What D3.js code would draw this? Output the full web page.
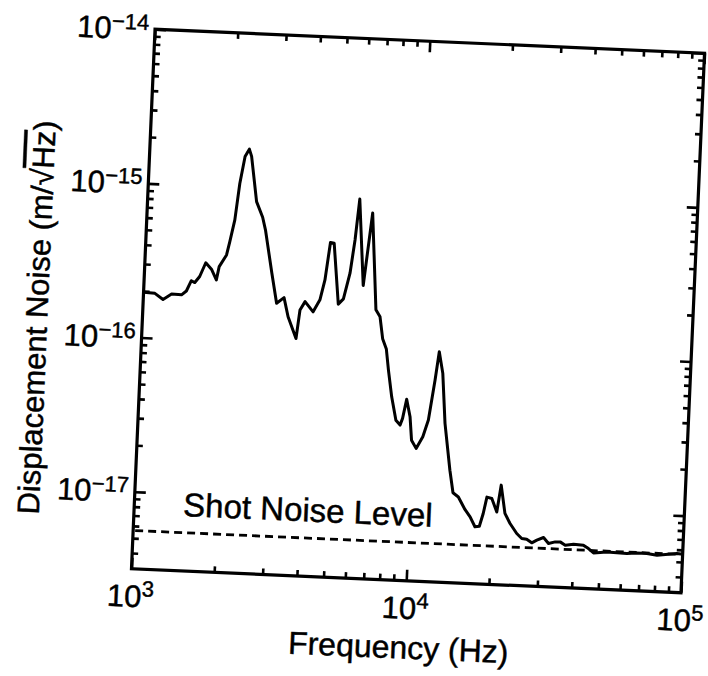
<!DOCTYPE html>
<html>
<head>
<meta charset="utf-8">
<script src="https://cdn.jsdelivr.net/npm/d3@7"></script>
<style>
  body { margin: 0; background: #fff; }
  text { font-family: "Liberation Sans", Arial, Helvetica, sans-serif; fill: #000; stroke: #000; stroke-width: 0.45px; }
</style>
</head>
<body>
<svg id="chart" width="708" height="676"></svg>
<script>
// Measured displacement noise spectrum (frequency in Hz, noise in m/√Hz)
const frequencies = [
  1000, 1100, 1180, 1265, 1375, 1430, 1485, 1530, 1590, 1665,
  1750, 1830, 1865, 1975, 2020, 2090, 2150, 2225, 2300, 2350,
  2490, 2635, 2710, 2905, 3055, 3245, 3380, 3640, 3725, 3875,
  4160, 4385, 4540, 4690, 4840, 5120, 5335, 5585, 5755, 5900,
  6265, 6605, 7030, 7295, 7515, 7780, 7980, 8280, 8650, 8975,
  9140, 9395, 9725, 9930, 10350, 10900, 11350, 11830, 12130, 12590,
  13060, 13840, 14320, 15000, 15920, 16670, 17420, 18070, 18580, 19050,
  19860, 20800, 21380, 22280, 23340, 24770, 25880, 26980, 28180, 29380,
  31050, 32430, 34280, 35730, 37330, 39990, 43450, 45390, 47420, 52970,
  57680, 62660, 68080, 74130, 80720, 95280, 100000
];
const displacementNoise = [
  1.97e-16, 1.95e-16, 1.79e-16, 1.95e-16, 1.94e-16, 2.06e-16, 2.41e-16, 2.35e-16, 2.58e-16, 3.18e-16,
  2.90e-16, 2.48e-16, 3.03e-16, 3.62e-16, 4.43e-16, 6.14e-16, 1.06e-15, 1.59e-15, 1.78e-15, 1.60e-15,
  8.18e-16, 6.50e-16, 5.40e-16, 2.84e-16, 1.82e-16, 1.99e-16, 1.50e-16, 1.09e-16, 1.67e-16, 1.90e-16,
  1.64e-16, 1.97e-16, 2.66e-16, 4.67e-16, 4.62e-16, 1.87e-16, 2.03e-16, 2.99e-16, 4.92e-16, 9.08e-16,
  2.51e-16, 7.45e-16, 1.76e-16, 1.59e-16, 1.15e-16, 9.89e-17, 7.23e-17, 4.86e-17, 3.44e-17, 3.21e-17,
  3.55e-17, 4.73e-17, 3.66e-17, 2.58e-17, 2.29e-17, 2.74e-17, 3.52e-17, 6.43e-17, 9.82e-17, 7.13e-17,
  3.39e-17, 1.69e-17, 1.21e-17, 1.14e-17, 9.51e-18, 8.55e-18, 7.40e-18, 7.48e-18, 9.06e-18, 1.16e-17,
  1.14e-17, 9.35e-18, 1.40e-17, 9.20e-18, 7.94e-18, 6.87e-18, 6.40e-18, 6.35e-18, 6.04e-18, 6.31e-18,
  6.59e-18, 6.05e-18, 6.22e-18, 6.24e-18, 5.96e-18, 6.08e-18, 6.03e-18, 5.75e-18, 5.41e-18, 5.53e-18,
  5.50e-18, 5.48e-18, 5.56e-18, 5.56e-18, 5.45e-18, 5.66e-18, 5.62e-18
];
const shotNoiseLevel = 5.6e-18;

const xTickValues = [1e3, 1e4, 1e5];
const xTickExponents = ["3", "4", "5"];
const yTickValues = [1e-14, 1e-15, 1e-16, 1e-17];
const yTickExponents = ["\u221214", "\u221215", "\u221216", "\u221217"];

const xDomain = [1e3, 1e5];
const yDomain = [Math.pow(10, -17.5), 1e-14];

// ---- layout ----
const plot = { left: 143, right: 693, top: 41, bottom: 581 };
const tilt = 2.5;              // the printed page sits slightly skewed
const pivot = [418, 311];
const majorLen = 11, minorLen = 6;

const svg = d3.select("#chart");
svg.append("rect").attr("width", 708).attr("height", 676).attr("fill", "#fff");
const g = svg.append("g")
  .attr("transform", `rotate(${tilt},${pivot[0]},${pivot[1]})`);

const x = d3.scaleLog().domain(xDomain).range([plot.left, plot.right]);
const y = d3.scaleLog().domain(yDomain).range([plot.bottom, plot.top]);

const isDecade = v => Math.abs(Math.log10(v) - Math.round(Math.log10(v))) < 1e-9;
const xMinor = x.ticks().filter(v => !isDecade(v));
const yMinor = y.ticks().filter(v => !isDecade(v));

// ---- ticks on all four sides, pointing inward ----
function tickAxis(axisFn, scale, values, len, transform) {
  const a = g.append("g").attr("transform", transform)
    .call(axisFn(scale).tickValues(values).tickSize(-len).tickFormat(""));
  a.select(".domain").remove();
  a.selectAll(".tick line").attr("stroke", "#000").attr("stroke-width", 2.6);
}
tickAxis(d3.axisBottom, x, xTickValues, majorLen, `translate(0,${plot.bottom})`);
tickAxis(d3.axisBottom, x, xMinor, minorLen, `translate(0,${plot.bottom})`);
tickAxis(d3.axisTop, x, xTickValues, majorLen, `translate(0,${plot.top})`);
tickAxis(d3.axisTop, x, xMinor, minorLen, `translate(0,${plot.top})`);
tickAxis(d3.axisLeft, y, yTickValues, majorLen, `translate(${plot.left},0)`);
tickAxis(d3.axisLeft, y, yMinor, minorLen, `translate(${plot.left},0)`);
tickAxis(d3.axisRight, y, yTickValues, majorLen, `translate(${plot.right},0)`);
tickAxis(d3.axisRight, y, yMinor, minorLen, `translate(${plot.right},0)`);

// ---- frame ----
g.append("rect")
  .attr("x", plot.left).attr("y", plot.top)
  .attr("width", plot.right - plot.left).attr("height", plot.bottom - plot.top)
  .attr("fill", "none").attr("stroke", "#000").attr("stroke-width", 3.2);

// ---- tick labels (powers of ten) ----
const xLab = g.append("g");
xTickValues.forEach((v, i) => {
  const t = xLab.append("text")
    .attr("x", x(v)).attr("y", plot.bottom + 38)
    .attr("text-anchor", "middle").attr("font-size", 31);
  t.append("tspan").text("10");
  t.append("tspan").attr("font-size", 22).attr("dy", -11).text(xTickExponents[i]);
});

const yLab = g.append("g");
yTickValues.forEach((v, i) => {
  const t = yLab.append("text")
    .attr("x", plot.left - 6).attr("y", y(v) + 11)
    .attr("text-anchor", "end").attr("font-size", 31);
  t.append("tspan").text("10");
  t.append("tspan").attr("font-size", 22).attr("dy", -10).text(yTickExponents[i]);
});

// ---- axis titles ----
g.append("text")
  .attr("x", 413).attr("y", 659)
  .attr("text-anchor", "middle").attr("font-size", 32)
  .text("Frequency (Hz)");

const yTitle = g.append("text")
  .attr("transform", "translate(48,334) rotate(-90)")
  .attr("text-anchor", "middle").attr("font-size", 31);
yTitle.append("tspan").text("Displacement Noise (m/\u221A");
yTitle.append("tspan").style("text-decoration", "overline").text("Hz");
yTitle.append("tspan").text(")");

// ---- shot noise reference ----
g.append("line")
  .attr("x1", x(xDomain[0]) + 2).attr("x2", x(xDomain[1]) - 2)
  .attr("y1", y(shotNoiseLevel)).attr("y2", y(shotNoiseLevel))
  .attr("stroke", "#000").attr("stroke-width", 2.8)
  .attr("stroke-dasharray", "8,5");

g.append("text")
  .attr("x", 192).attr("y", 526)
  .attr("font-size", 33)
  .text("Shot Noise Level");

// ---- spectrum ----
const spectrum = frequencies.map((f, i) => [f, displacementNoise[i]]);
g.append("path")
  .datum(spectrum)
  .attr("fill", "none").attr("stroke", "#000")
  .attr("stroke-width", 3).attr("stroke-linejoin", "round")
  .attr("d", d3.line().x(d => x(d[0])).y(d => y(d[1])));
</script>
</body>
</html>
